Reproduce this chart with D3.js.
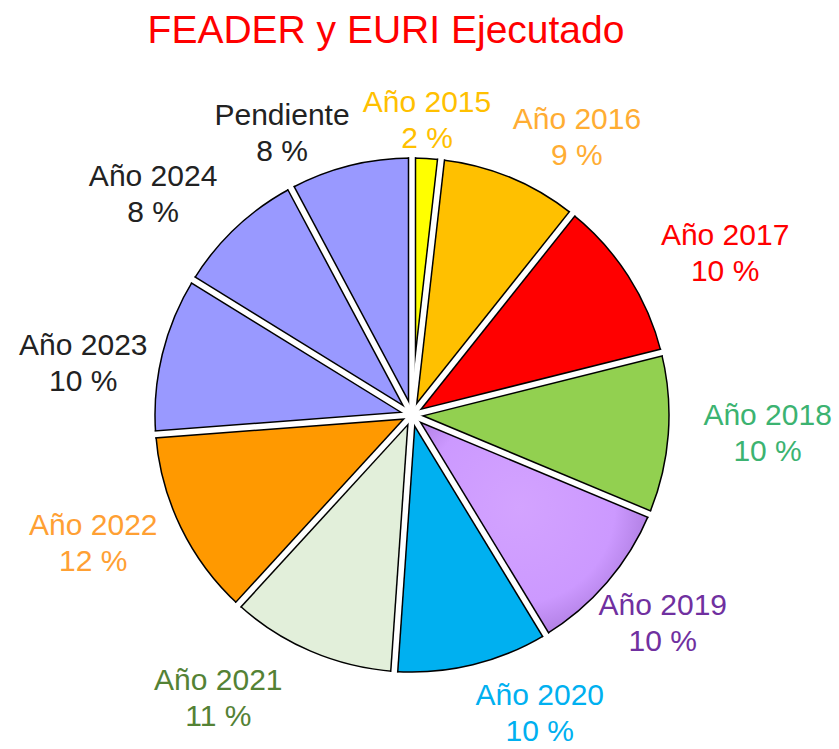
<!DOCTYPE html>
<html><head><meta charset="utf-8">
<script src="https://cdn.jsdelivr.net/npm/d3@7"></script>
<style>html,body{margin:0;padding:0;background:#fff}</style>
</head><body><svg id="chart" width="839" height="749"></svg>
<script>
// ---- data ----
const title = "FEADER y EURI Ejecutado";
const categories = ["Año 2015","Año 2016","Año 2017","Año 2018","Año 2019","Año 2020","Año 2021","Año 2022","Año 2023","Año 2024","Pendiente"];
const values = [1.8, 8.9, 10.4, 10.2, 10.0, 9.8, 10.7, 12.0, 10.0, 8.4, 7.8];
// ---- styling / layout (separate from data) ----
const fillColors = ["#FFFF00","#FFC000","#FF0000","#92D050","#CC99FF","#00B0F0","#E2EFDA","#FF9900","#9999FF","#9999FF","#9999FF"];
const labelColors = ["#FFC000","#FFAD33","#FF0000","#3CB371","#7030A0","#00B0F0","#548235","#FFA033","#222222","#222222","#222222"];
const labelAngles = [2.9, 30.6, 62.5, 92.7, 129.5, 156.7, 214.5, 248.3, 279.2, 310.6, 335.3];
const labelRadii  = [296, 324, 353, 356, 325, 323, 342, 343, 333, 341, 311];

const cx = 412, cy = 415, R = 257, gap = 5.5;
const svg = d3.select("#chart");
const font = "'Liberation Sans', Arial, sans-serif";

svg.append("text").attr("x", 386).attr("y", 43).attr("text-anchor","middle")
  .attr("font-family", font).attr("font-size", 39).attr("fill","#FF0000").text(title);

const pie = d3.pie().value(d => d).sort(null);
const arcs = pie(values);
const arc = d3.arc().innerRadius(0).outerRadius(R);

const g = svg.append("g").attr("transform", `translate(${cx},${cy})`);

// gradient for 2019 slice (coordinates in the group's user space)
const mid4 = (arcs[4].startAngle + arcs[4].endAngle) / 2;
const grad = svg.append("defs").append("radialGradient").attr("id","g2019")
  .attr("gradientUnits","userSpaceOnUse")
  .attr("cx", Math.sin(mid4) * R * 0.55).attr("cy", -Math.cos(mid4) * R * 0.55)
  .attr("r", R * 0.62);
grad.append("stop").attr("offset","0%").attr("stop-color","#D3A3FF");
grad.append("stop").attr("offset","60%").attr("stop-color","#CC99FF");
grad.append("stop").attr("offset","100%").attr("stop-color","#9A6ACC");

g.selectAll("path.slice").data(arcs).join("path").attr("class","slice")
  .attr("d", arc)
  .attr("fill", (d, i) => i === 4 ? "url(#g2019)" : fillColors[i])
  .attr("stroke", "#000").attr("stroke-width", 1.5).attr("stroke-linejoin","round");

const bounds = arcs.map(d => d.startAngle);
g.selectAll("line.bk").data(bounds).join("line").attr("class","bk")
  .attr("x1", 0).attr("y1", 0)
  .attr("x2", a => Math.sin(a) * (R + 0.75)).attr("y2", a => -Math.cos(a) * (R + 0.75))
  .attr("stroke", "#000").attr("stroke-width", gap + 3);
g.selectAll("line.wh").data(bounds).join("line").attr("class","wh")
  .attr("x1", a => -Math.sin(a) * 2).attr("y1", a => Math.cos(a) * 2)
  .attr("x2", a => Math.sin(a) * (R + 5)).attr("y2", a => -Math.cos(a) * (R + 5))
  .attr("stroke", "#fff").attr("stroke-width", gap);
g.append("circle").attr("r", 4.5).attr("fill", "#fff");

// labels
const lab = g.selectAll("g.lab").data(arcs).join("g").attr("class","lab")
  .attr("transform", (d, i) => {
    const a = labelAngles[i] * Math.PI / 180, r = labelRadii[i];
    return `translate(${Math.sin(a) * r},${-Math.cos(a) * r})`;
  });
lab.append("text").attr("y", -7).attr("text-anchor","middle").attr("font-family", font)
  .attr("font-size", 30).attr("fill", (d, i) => labelColors[i]).text((d, i) => categories[i]);
lab.append("text").attr("y", 29).attr("text-anchor","middle").attr("font-family", font)
  .attr("font-size", 30).attr("fill", (d, i) => labelColors[i]).text(d => Math.round(d.data) + " %");
</script>
</body></html>
